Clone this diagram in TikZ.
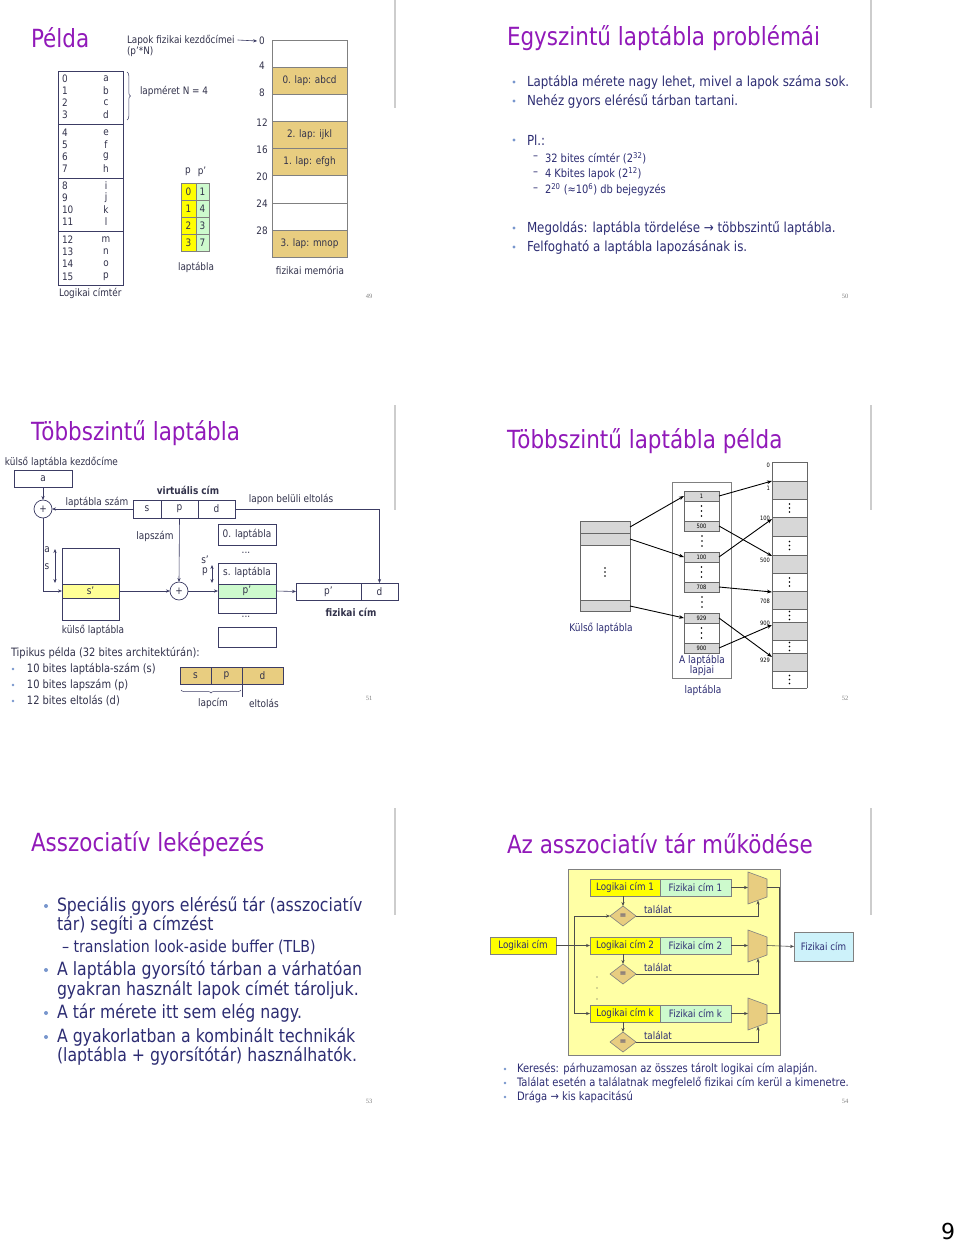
\documentclass[tikz,border=0pt]{standalone}
\usepackage{fontspec}
\setmainfont{DejaVu Sans}[FakeStretch=0.86]
\newfontfamily\serifnum{Liberation Serif}
\newfontfamily\plainsans{DejaVu Sans}
\usetikzlibrary{arrows.meta,decorations.pathreplacing,shapes.geometric}
\definecolor{titlec}{RGB}{145,25,185}
\definecolor{txt}{RGB}{45,45,115}
\definecolor{dtxt}{RGB}{50,50,75}
\definecolor{bul}{RGB}{120,150,205}
\definecolor{tanc}{RGB}{232,205,128}
\definecolor{yel}{RGB}{255,255,0}
\definecolor{lyel}{RGB}{255,255,150}
\definecolor{lgrn}{RGB}{205,250,205}
\definecolor{gry}{RGB}{215,215,215}
\definecolor{sepc}{RGB}{205,205,205}
\definecolor{bgyel}{RGB}{255,255,165}
\definecolor{cyanb}{RGB}{205,242,250}
\definecolor{lnc}{RGB}{60,60,100}
\begin{document}
\begin{tikzpicture}[x=1pt,y=-1pt,
  every node/.style={inner sep=0pt,outer sep=0pt},
  ttl/.style={anchor=west,text=titlec,font=\fontsize{25}{28}\selectfont},
  bt/.style={anchor=west,text=txt,font=\fontsize{13.8}{15}\selectfont},
  st/.style={anchor=west,text=txt,font=\fontsize{11.5}{13}\selectfont},
  big/.style={anchor=west,text=txt,font=\fontsize{18.3}{20}\selectfont},
  bigs/.style={anchor=west,text=txt,font=\fontsize{16.5}{18}\selectfont},
  bdot/.style={circle,fill=bul,minimum size=3.2pt},
  s9/.style={text=dtxt,font=\fontsize{10.3}{12}\selectfont},
  s10/.style={text=dtxt,font=\fontsize{10.4}{12}\selectfont},
  s11/.style={text=dtxt,font=\fontsize{11.5}{13}\selectfont},
  sb/.style={text=dtxt,font=\fontsize{10.4}{12}\selectfont\bfseries},
  tiny/.style={text=black,font=\fontsize{6}{7}\selectfont},
  lab/.style={text=txt,font=\fontsize{10.5}{12}\selectfont},
  cell/.style={draw=lnc,line width=0.7pt,rectangle,s10},
  lbox/.style={draw=gray,line width=0.6pt,rectangle,text=txt,font=\fontsize{10.2}{11}\selectfont,minimum height=17pt},
  gbox/.style={draw=gray!80!black,line width=0.6pt,rectangle,fill=gry,tiny,minimum width=35pt,minimum height=10pt},
  arr/.style={-{Stealth[length=4pt,width=3.2pt]},lnc,line width=0.6pt},
  arrk/.style={-{Stealth[length=5pt,width=3.6pt]},black,line width=0.9pt},
  pn/.style={text=gray,font=\fontsize{6.5}{7}\serifnum\selectfont},
  sepline/.style={draw=sepc,line width=1.2pt}
]
\useasboundingbox[fill=white] (0,0) rectangle (960,1242);

% ---------- slide separators & numbers ----------
\draw[sepline] (395,0) -- (395,108);
\draw[sepline] (871,0) -- (871,108);
\draw[sepline] (395,405) -- (395,510);
\draw[sepline] (871,405) -- (871,510);
\draw[sepline] (395,808) -- (395,915);
\draw[sepline] (871,808) -- (871,915);
\node[pn] (n49) at (369,296) {49};
\node[pn] (n50) at (845,296) {50};
\node[pn] (n51) at (369,698) {51};
\node[pn] (n52) at (845,698) {52};
\node[pn] (n53) at (369,1101) {53};
\node[pn] (n54) at (845,1101) {54};
\node[font=\fontsize{22}{24}\plainsans\selectfont,text=black] (pg) at (948,1231) {9};

% ================= Slide 49 =================
\node[ttl] (t49) at (31,38) {Példa};
\draw[lnc,line width=0.7pt] (58,71) rectangle (123,285);
\foreach \y in {124,178,231} \draw[lnc,line width=0.7pt] (58,\y) -- (123,\y);
\foreach \n/\l/\y in {0/a/79,1/b/91,2/c/103,3/d/115,4/e/133,5/f/145,6/g/157,7/h/169,8/i/186,9/j/198,10/k/210,11/l/222,12/m/240,13/n/252,14/o/264,15/p/277}{
  \node[s9,anchor=west] (ln\n) at (62,\y) {\n};
  \node[s9] (ll\n) at (106,\y) {\l};
}
\node[s9,anchor=west] (lct) at (59,293) {Logikai címtér};
\draw[lnc,line width=0.5pt,decorate,decoration={brace,amplitude=3.5pt}] (127,72) -- (127,120);
\node[s9,anchor=west] (lmr) at (140,91) {lapméret N = 4};
\node[s9,anchor=west] (lkc) at (127,40) {Lapok fizikai kezdőcímei};
\node[s9,anchor=west] (lkc2) at (127,52) {(p’*N)};
% memory
\foreach \a/\b in {67.5/94.5,121.5/148.5,148.5/175,230/257} \fill[tanc] (272,\a) rectangle (347,\b);
\foreach \y in {67.5,94.5,121.5,148.5,175,203,230} \draw[gray,line width=0.6pt] (272,\y) -- (347,\y);
\draw[gray,line width=0.6pt] (272,40) rectangle (347,257);
\node[s9] (p0) at (309.5,81) {0. lap: abcd};
\node[s9] (p2) at (309.5,135) {2. lap: ijkl};
\node[s9] (p1) at (309.5,162) {1. lap: efgh};
\node[s9] (p3) at (309.5,244) {3. lap: mnop};
\foreach \v/\y in {0/41,4/66,8/93,12/123,16/150,20/177,24/204,28/231}
  \node[s9] (m\v) at (262,\y) {\v};
\draw[arr] ([xshift=3pt]lkc.east) -- ([xshift=-2pt]m0.west);
\node[s9] (fmem) at (310,270) {fizikai memória};
% laptabla
\node[s9] (hp) at (188,172) {p};
\node[s9] (hpp) at (202,172) {p’};
\foreach \i/\p/\q in {0/0/1,1/1/4,2/2/3,3/3/7}{
  \node[draw=gray,line width=0.5pt,fill=yel,minimum width=15pt,minimum height=17pt,s9] (tp\i) at (188.5,{191.5+17*\i}) {\p};
  \node[draw=gray,line width=0.5pt,fill=lgrn,minimum width=13pt,minimum height=17pt,s9] (tq\i) at (202.5,{191.5+17*\i}) {\q};
}
\node[s9] (ltab) at (196,267) {laptábla};

% ================= Slide 50 =================
\node[ttl] (t50) at (507,38) {Egyszintű laptábla problémái};
\foreach \y/\t [count=\c] in {82/{Laptábla mérete nagy lehet, mivel a lapok száma sok.},101/{Nehéz gyors elérésű tárban tartani.},140/{Pl.:},228/{Megoldás: laptábla tördelése → többszintű laptábla.},247/{Felfogható a laptábla lapozásának is.}}{
  \node[bdot] (b50d\c) at (514,\y) {};
  \node[bt] (b50t\c) at (527,\y) {\t};
}
\node[st] (d1) at (533,158) {–};
\node[st] (s1) at (545,158) {32 bites címtér (2\textsuperscript{32})};
\node[st] (d2) at (533,174) {–};
\node[st] (s2) at (545,174) {4 Kbites lapok (2\textsuperscript{12})};
\node[st] (d3) at (533,190) {–};
\node[st] (s3) at (545,190) {2\textsuperscript{20} (≈10\textsuperscript{6}) db bejegyzés};

% ================= Slide 51 =================
\node[ttl] (t51) at (31,433) {Többszintű laptábla};
\node[s10,anchor=west] (kk) at (5,462) {külső laptábla kezdőcíme};
\node[cell,minimum width=58pt,minimum height=17pt] (abox) at (43,478.5) {a};
\node[circle,draw=lnc,line width=0.7pt,minimum size=18pt,s10] (c1) at (43,509) {+};
\draw[arr] (abox.south) -- (c1.north);
\node[cell,minimum width=28pt,minimum height=18pt] (vs) at (147,509) {s};
\node[cell,minimum width=37pt,minimum height=18pt] (vp) at (179.5,509) {p};
\node[cell,minimum width=37pt,minimum height=18pt] (vd) at (216.5,509) {d};
\node[sb] (vcim) at (188,490) {virtuális cím};
\draw[arr] (vs.west) -- (c1.east);
\node[s10] (lsz) at (97,502) {laptábla szám};
\node[s10] (lbe) at (291,499) {lapon belüli eltolás};
% outer table
\draw[lnc,line width=0.7pt] (62,548) rectangle (119,620);
\node[cell,fill=lyel,minimum width=57pt,minimum height=14pt] (sp) at (90.5,591) {s’};
\draw[arr] (c1.south) |- (sp.west);
\node[s10] (la) at (47,550) {a};
\node[s10] (ls) at (47,567) {s};
\draw[{Stealth[length=4pt,width=3.2pt]}-{Stealth[length=4pt,width=3.2pt]},lnc,line width=0.6pt] (55,549) -- (55,583);
\node[s10] (klt) at (93,630) {külső laptábla};
\node[circle,draw=lnc,line width=0.7pt,minimum size=18pt,s10] (c2) at (179,591) {+};
\draw[arr] (sp.east) -- (c2.west);
\draw[arr] (vp.south) -- (c2.north);
\node[s10] (lsm) at (155,536) {lapszám};
% second level
\node[cell,minimum width=58pt,minimum height=21pt] (l0) at (247,534.5) {0. laptábla};
\node[s10] (e1) at (246,553) {...};
\draw[lnc,line width=0.7pt] (218,563) rectangle (276,613);
\node[s10] (slt) at (247,572) {s. laptábla};
\node[cell,fill=lgrn,minimum width=58pt,minimum height=14pt] (pp) at (247,591) {p’};
\node[s10] (e2) at (246,617) {...};
\node[cell,minimum width=58pt,minimum height=20pt] (le) at (247,637) {};
\node[s10] (lsp) at (205,560) {s’};
\node[s10] (lpp) at (205,572) {p};
\draw[{Stealth[length=4pt,width=3.2pt]}-{Stealth[length=4pt,width=3.2pt]},lnc,line width=0.6pt] (212,565) -- (212,583);
\draw[arr] (c2.east) -- (pp.west);
\node[cell,minimum width=65pt,minimum height=17pt] (fp) at (328.5,591.5) {p’};
\node[cell,minimum width=37pt,minimum height=17pt] (fd) at (379.5,591.5) {d};
\draw[arr] (pp.east) -- (fp.west);
\draw[arr] (vd.east) -| (fd.north);
\node[sb] (fcim) at (351,612) {fizikai cím};
\node[s11,anchor=west] (tip) at (11,653) {Tipikus példa (32 bites architektúrán):};
\foreach \y/\t [count=\c] in {669/{10 bites laptábla-szám (s)},685/{10 bites lapszám (p)},701/{12 bites eltolás (d)}}{
  \node[bdot,minimum size=2.6pt] (b51d\c) at (13,\y) {};
  \node[s11,anchor=west] (b51t\c) at (27,\y) {\t};
}
\node[cell,fill=tanc,minimum width=31pt,minimum height=17pt] (ts) at (195.5,675.5) {s};
\node[cell,fill=tanc,minimum width=31pt,minimum height=17pt] (tpp) at (226.5,675.5) {p};
\node[cell,fill=tanc,minimum width=41pt,minimum height=17pt] (td) at (262.5,675.5) {d};
\draw[lnc,line width=0.6pt] (242,684) -- (242,697);
\draw[lnc,line width=0.5pt,decorate,decoration={brace,mirror,amplitude=3pt}] (181,690) -- (241,690);
\node[s10] (lpc) at (213,703) {lapcím};
\node[s10] (lel) at (264,703) {eltolás};

% ================= Slide 52 =================
\node[ttl] (t52) at (507,441) {Többszintű laptábla példa};
% outer table
\fill[gry] (580,521) rectangle (630,545);
\fill[gry] (580,600) rectangle (630,611);
\foreach \y in {533,545,600} \draw[gray!80!black,line width=0.6pt] (580,\y) -- (630,\y);
\draw[gray!80!black,line width=0.6pt] (580,521) rectangle (630,611);
\coordinate (o1) at (630,527);
\coordinate (o2) at (630,539);
\coordinate (o3) at (630,606);
\foreach \d in {-4,0,4} \fill (605,{572+\d}) circle (0.8);
\node[lab] (klt2) at (601,628) {Külső laptábla};
% laptabla frame
\draw[gray,line width=0.8pt] (672,482) rectangle (731,678);
\foreach \t/\a/\b/\k in {491/1/500/1,552/100/708/2,613/929/900/3}{
  \draw[gray!80!black,line width=0.6pt] (684,\t) rectangle (719,{\t+40});
  \node[gbox] (pa\k) at (701.5,{\t+5}) {\a};
  \node[gbox] (pb\k) at (701.5,{\t+35}) {\b};
  \foreach \d in {-5,0,5} \fill (701.5,{\t+20+\d}) circle (0.8);
}
\foreach \d in {-5,0,5} \fill (702,{541+\d}) circle (0.8);
\foreach \d in {-5,0,5} \fill (702,{602+\d}) circle (0.8);
\node[lab] (alt) at (702,660) {A laptábla};
\node[lab] (alj) at (702,671) {lapjai};
\node[lab] (lt52) at (703,690) {laptábla};
% memory column
\foreach \a/\b in {481/499,517/536,555/573,591/609,622/640,653/671} \fill[gry] (772,\a) rectangle (807,\b);
\foreach \y in {481,499,517,536,555,573,591,609,622,640,653,671} \draw[gray!80!black,line width=0.6pt] (772,\y) -- (807,\y);
\draw[gray!80!black,line width=0.6pt] (807,688) -- (772,688) -- (772,462) -- (807,462) -- (807,688);
\foreach \c in {508,545.5,582,615.5,646.5,679.5}
  \foreach \d in {-4,0,4} \fill (789.5,{\c+\d}) circle (0.8);
\foreach \v/\y in {0/465,1/488,100/518,500/560,708/601,900/623,929/660}
  \node[tiny,anchor=east] (mm\v) at (770,\y) {\v};
\coordinate (m1) at (772,481);
\coordinate (m100) at (772,519);
\coordinate (m500) at (772,556);
\coordinate (m708) at (772,592);
\coordinate (m900) at (772,625);
\coordinate (m929) at (772,657);
\draw[arrk] (o1) -- (pa1.west);
\draw[arrk] (o2) -- (pa2.west);
\draw[arrk] (o3) -- (pa3.west);
\draw[arrk] (pa1.east) -- (m1);
\draw[arrk] (pb1.east) -- (m500);
\draw[arrk] (pa2.east) -- (m100);
\draw[arrk] (pb2.east) -- (m708);
\draw[arrk] (pa3.east) -- (m929);
\draw[arrk] (pb3.east) -- (m900);

% ================= Slide 53 =================
\node[ttl] (t53) at (31,844) {Asszociatív leképezés};
\foreach \y/\t [count=\c] in {906/{Speciális gyors elérésű tár (asszociatív},970/{A laptábla gyorsító tárban a várhatóan},1013/{A tár mérete itt sem elég nagy.},1037/{A gyakorlatban a kombinált technikák}}{
  \node[bdot,minimum size=4pt] (b53d\c) at (46,\y) {};
}
\node[big] (a1) at (57,906) {Speciális gyors elérésű tár (asszociatív};
\node[big] (a2) at (57,925) {tár) segíti a címzést};
\node[bigs] (a3) at (62,947) {– translation look-aside buffer (TLB)};
\node[big] (a4) at (57,970) {A laptábla gyorsító tárban a várhatóan};
\node[big] (a5) at (57,990) {gyakran használt lapok címét tároljuk.};
\node[big] (a6) at (57,1013) {A tár mérete itt sem elég nagy.};
\node[big] (a7) at (57,1037) {A gyakorlatban a kombinált technikák};
\node[big] (a8) at (57,1056) {(laptábla + gyorsítótár) használhatók.};

% ================= Slide 54 =================
\node[ttl] (t54) at (507,844) {Az asszociatív tár működése};
\draw[fill=bgyel,draw=gray,line width=0.7pt] (568,869) rectangle (780,1055);
\foreach \r/\y/\lab in {1/887.5/1,2/945.5/2,k/1013.5/k}{
  \node[lbox,fill=yel,minimum width=70pt] (L\r) at (625,\y) {Logikai cím \lab};
  \node[lbox,fill=lgrn,minimum width=71pt] (F\r) at (695.5,\y) {Fizikai cím \lab};
  \node[diamond,draw=gray,line width=0.6pt,fill=tanc,aspect=1.3,minimum width=26pt,minimum height=20pt,text=txt,font=\fontsize{9.5}{11}\selectfont] (D\r) at (623,{\y+28.5}) {=};
  \draw[fill=tanc,draw=gray,line width=0.6pt] (748,{\y-15.5}) -- (767,{\y-8.5}) -- (767,{\y+9.5}) -- (748,{\y+16.5}) -- cycle;
  \coordinate (MI\r) at (748,\y);
  \coordinate (MO\r) at (767,\y);
  \coordinate (MB\r) at (758,{\y+13}) ;
  \node[text=txt,font=\fontsize{10.2}{11}\selectfont,anchor=west] (TL\r) at (644,{\y+21.5}) {találat};
  \draw[arr,black!70] (F\r.east) -- (MI\r);
  \draw[arr,black!70] (L\r.south -| D\r.north) -- (D\r.north);
  \draw[arr,black!70] (D\r.east) -| (MB\r);
}
\node[lbox,fill=cyanb,minimum width=59pt,minimum height=29pt] (FO) at (823.5,946.5) {Fizikai cím};
\draw[black!70,line width=0.6pt] (MO1) -- (779,887.5) -- (779,1013.5) -- (MOk);
\draw[arr,black!70] (MO2) -- (FO.west);
\node[lbox,fill=yel,minimum width=66pt] (LI) at (523,945.5) {Logikai cím};
\coordinate (jn) at (574,945.5);
\draw[arr,black!70] (LI.east) -- (L2.west);
\draw[arr,black!70] (jn) |- (D1.west);
\draw[arr,black!70] (jn) |- (Lk.west);
\foreach \y in {977,988,999} \fill[black!70] (597,\y) circle (0.7);
\foreach \y/\t [count=\c] in {1069/{Keresés: párhuzamosan az összes tárolt logikai cím alapján.},1083/{Találat esetén a találatnak megfelelő fizikai cím kerül a kimenetre.},1097/{Drága → kis kapacitású}}{
  \node[bdot,minimum size=2.6pt] (b54d\c) at (505,\y) {};
  \node[anchor=west,text=txt,font=\fontsize{11.6}{13}\selectfont] (b54t\c) at (517,\y) {\t};
}
\end{tikzpicture}
\end{document}
